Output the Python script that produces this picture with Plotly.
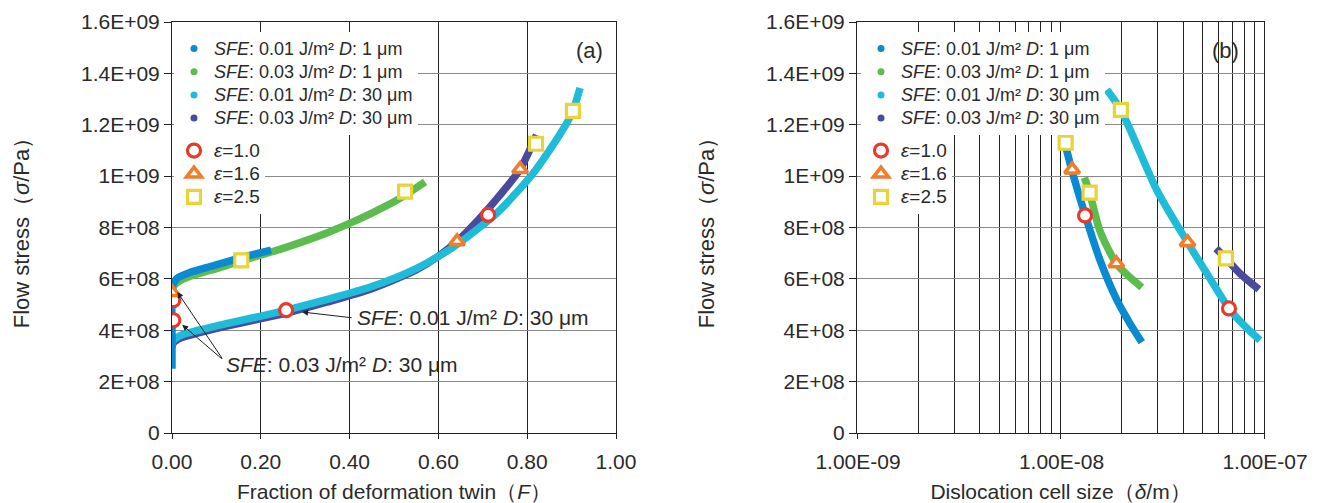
import plotly.graph_objects as go

# ---------------- data ----------------
Y_TICKS = [0, 2e8, 4e8, 6e8, 8e8, 1e9, 1.2e9, 1.4e9, 1.6e9]
Y_TICK_LABELS = ["0", "2E+08", "4E+08", "6E+08", "8E+08", "1E+09", "1.2E+09", "1.4E+09", "1.6E+09"]
A_X_TICKS = [0, 0.2, 0.4, 0.6, 0.8, 1.0]
A_X_TICK_LABELS = ["0.00", "0.20", "0.40", "0.60", "0.80", "1.00"]
B_X_TICKS = [1e-9, 1e-8, 1e-7]
B_X_TICK_LABELS = ["1.00E-09", "1.00E-08", "1.00E-07"]
B_X_MINOR = [2e-9, 3e-9, 4e-9, 5e-9, 6e-9, 7e-9, 8e-9, 9e-9,
             2e-8, 3e-8, 4e-8, 5e-8, 6e-8, 7e-8, 8e-8, 9e-8]

SERIES_NAMES = ["<i>SFE</i>: 0.01 J/m² <i>D</i>: 1 μm",
                "<i>SFE</i>: 0.03 J/m² <i>D</i>: 1 μm",
                "<i>SFE</i>: 0.01 J/m² <i>D</i>: 30 μm",
                "<i>SFE</i>: 0.03 J/m² <i>D</i>: 30 μm"]
STRAIN_NAMES = ["<i>ε</i>=1.0", "<i>ε</i>=1.6", "<i>ε</i>=2.5"]

# (a) flow stress vs fraction of deformation twin
a_F_s1 = [0, 0, 0, 0.004, 0.014, 0.04, 0.08, 0.15, 0.223]
a_S_s1 = [2.5e8, 4.2e8, 5.6e8, 5.85e8, 6.05e8, 6.25e8, 6.45e8, 6.8e8, 7.12e8]
a_F_s2 = [0, 0.005, 0.02, 0.05, 0.1, 0.156, 0.2, 0.25, 0.3, 0.35, 0.4, 0.45, 0.5, 0.525, 0.57]
a_S_s2 = [5.5e8, 5.75e8, 5.95e8, 6.15e8, 6.4e8, 6.7e8, 6.93e8, 7.19e8, 7.48e8, 7.8e8, 8.16e8, 8.56e8, 9.0e8, 9.26e8, 9.78e8]
a_F_s3 = [0, 0.003, 0.02, 0.06, 0.12, 0.2, 0.257, 0.35, 0.45, 0.55, 0.63, 0.7, 0.739, 0.813, 0.85, 0.889, 0.903, 0.919]
a_S_s3 = [3.4e8, 3.6e8, 3.8e8, 4.0e8, 4.25e8, 4.55e8, 4.78e8, 5.2e8, 5.7e8, 6.4e8, 7.2e8, 8.1e8, 8.68e8, 1.01e9, 1.1e9, 1.206e9, 1.254e9, 1.343e9]
a_F_s4 = [0, 0.003, 0.02, 0.06, 0.12, 0.2, 0.26, 0.35, 0.45, 0.55, 0.6, 0.642, 0.69, 0.739, 0.784, 0.821]
a_S_s4 = [3.35e8, 3.5e8, 3.7e8, 3.9e8, 4.15e8, 4.45e8, 4.68e8, 5.1e8, 5.62e8, 6.35e8, 6.88e8, 7.46e8, 8.3e8, 9.27e8, 1.027e9, 1.16e9]

a_F_e10 = [0.003, 0.003, 0.257, 0.712]
a_S_e10 = [5.17e8, 4.39e8, 4.78e8, 8.49e8]
a_F_e16 = [0.0, 0.642, 0.784]
a_S_e16 = [5.48e8, 7.46e8, 1.027e9]
a_F_e25 = [0.156, 0.525, 0.82, 0.903]
a_S_e25 = [6.72e8, 9.40e8, 1.126e9, 1.254e9]

# (b) flow stress vs dislocation cell size
b_D_s1 = [1.05e-8, 1.14e-8, 1.32e-8, 1.56e-8, 1.90e-8, 2.2e-8, 2.51e-8]
b_S_s1 = [1.13e9, 1.02e9, 8.5e8, 6.75e8, 5.15e8, 4.25e8, 3.53e8]
b_D_s2 = [1.31e-8, 1.39e-8, 1.56e-8, 1.88e-8, 2.2e-8, 2.51e-8]
b_S_s2 = [9.94e8, 9.36e8, 7.88e8, 6.6e8, 6.05e8, 5.67e8]
b_D_s3 = [1.69e-8, 1.98e-8, 2.98e-8, 4.21e-8, 5.24e-8, 6.73e-8, 8.24e-8, 9.55e-8]
b_S_s3 = [1.336e9, 1.258e9, 9.44e8, 7.42e8, 6.21e8, 4.85e8, 4.08e8, 3.61e8]
b_D_s4 = [5.81e-8, 6.50e-8, 7.62e-8, 9.44e-8]
b_S_s4 = [7.18e8, 6.8e8, 6.21e8, 5.59e8]

b_D_e10 = [1.32e-8, 6.73e-8]
b_S_e10 = [8.47e8, 4.85e8]
b_D_e16 = [1.14e-8, 1.88e-8, 4.21e-8]
b_S_e16 = [1.025e9, 6.6e8, 7.42e8]
b_D_e25 = [1.06e-8, 1.39e-8, 1.98e-8, 6.50e-8]
b_S_e25 = [1.13e9, 9.36e8, 1.258e9, 6.8e8]

# ---------------- style ----------------
C_BLUE, C_GREEN, C_CYAN, C_PURPLE = "#0a8ad0", "#5cbd4e", "#1fbcd9", "#4a4a9f"
SERIES_COLORS = [C_BLUE, C_GREEN, C_CYAN, C_PURPLE]
C_RED, C_ORANGE, C_YELLOW = "#e83a2c", "#f07c2c", "#e8d438"
FONT = "Liberation Sans, Arial, sans-serif"
TXT = "#2a2a2a"

BODY = 8                      # default page margin of the html body
W, H = 1317 - BODY, 503 - BODY
ML, MT = 172 - BODY, 22 - BODY
MR = W - (1264 - BODY)
MB = H - (433 - BODY)
PW, PH = W - ML - MR, H - MT - MB


def PX(px):
    return (px - BODY - ML) / PW


def PY(py):
    return (MT + PH - (py - BODY)) / PH


def big(t, s=18):
    return '<span style="font-size:%dpx">%s</span>' % (s, t)


fig = go.Figure()


def add_line(x, y, color, xa, ya):
    fig.add_trace(go.Scatter(x=x, y=y, mode="lines", xaxis=xa, yaxis=ya,
                             line=dict(color=color, width=7.5, shape="spline", smoothing=0.7),
                             showlegend=False, hoverinfo="skip"))


# draw order: purple, cyan, green, blue
for (x, y, c) in [(a_F_s4, a_S_s4, C_PURPLE), (a_F_s3, a_S_s3, C_CYAN),
                  (a_F_s2, a_S_s2, C_GREEN), (a_F_s1, a_S_s1, C_BLUE)]:
    add_line(x, y, c, "x", "y")
for (x, y, c) in [(b_D_s4, b_S_s4, C_PURPLE), (b_D_s3, b_S_s3, C_CYAN),
                  (b_D_s2, b_S_s2, C_GREEN), (b_D_s1, b_S_s1, C_BLUE)]:
    add_line(x, y, c, "x2", "y2")

# legend proxies for the series (dots)
for lg, xa, ya in [("legend", "x", "y"), ("legend3", "x2", "y2")]:
    for name, c in zip(SERIES_NAMES, SERIES_COLORS):
        fig.add_trace(go.Scatter(x=[None], y=[None], mode="markers", name=big(name),
                                 marker=dict(size=7, color=c), legend=lg,
                                 xaxis=xa, yaxis=ya))

MK = [dict(symbol="circle", size=13, color="white", line=dict(color=C_RED, width=3.2)),
      dict(symbol="triangle-up", size=13, color="white", line=dict(color=C_ORANGE, width=3.6)),
      dict(symbol="square", size=13, color="white", line=dict(color=C_YELLOW, width=3.2))]

for (x, y), mk, nm in zip([(a_F_e10, a_S_e10), (a_F_e16, a_S_e16), (a_F_e25, a_S_e25)], MK, STRAIN_NAMES):
    fig.add_trace(go.Scatter(x=x, y=y, mode="markers", name=big(nm, 19), marker=mk,
                             legend="legend2", xaxis="x", yaxis="y"))
for (x, y), mk, nm in zip([(b_D_e10, b_S_e10), (b_D_e16, b_S_e16), (b_D_e25, b_S_e25)], MK, STRAIN_NAMES):
    fig.add_trace(go.Scatter(x=x, y=y, mode="markers", name=big(nm, 19), marker=mk,
                             legend="legend4", xaxis="x2", yaxis="y2"))

axis_common = dict(showline=True, linecolor="#222", linewidth=1, mirror=True,
                   ticks="outside", tickcolor="#222", zeroline=False,
                   tickfont=dict(family=FONT, size=21, color=TXT),
                   title_font=dict(family=FONT, size=21, color=TXT))

yax = dict(axis_common, range=[0, 1.6e9], tickvals=Y_TICKS, ticktext=Y_TICK_LABELS,
           ticklen=7, showgrid=True, gridcolor="#8a8a8a", gridwidth=1.2,
           title_text="Flow stress（<i>σ</i>/Pa）", title_standoff=45,
           title_font=dict(family=FONT, size=22, color=TXT))

leg = dict(xanchor="left", yanchor="top", bgcolor="white",
           font=dict(family=FONT, size=15.5, color=TXT), itemwidth=30)

fig.update_layout(
    width=W, height=H,
    margin=dict(l=ML, r=MR, t=MT, b=MB, autoexpand=False),
    paper_bgcolor="white", plot_bgcolor="white",
    font=dict(family=FONT, color=TXT),
    xaxis=dict(axis_common, domain=[0, PX(616)], range=[0, 1.0],
               tickvals=A_X_TICKS, ticktext=A_X_TICK_LABELS, ticklen=5, ticklabelstandoff=5,
               showgrid=True, gridcolor="#222", gridwidth=1,
               title_text="Fraction of deformation twin（<i>F</i>）", title_standoff=12,
               anchor="y"),
    yaxis=dict(yax, domain=[0, 1], anchor="x"),
    xaxis2=dict(axis_common, domain=[PX(857), 1], type="log", range=[-9, -7],
                tickvals=B_X_TICKS, ticktext=B_X_TICK_LABELS, ticklen=5, ticklabelstandoff=5,
                ticklabelshift=1,
                showgrid=True, gridcolor="#222", gridwidth=1,
                minor=dict(tickvals=B_X_MINOR, showgrid=True, gridcolor="#222",
                           gridwidth=1, ticks=""),
                title_text="Dislocation cell size（<i>δ</i>/m）", title_standoff=12,
                anchor="y2"),
    yaxis2=dict(yax, domain=[0, 1], anchor="x2"),
    legend=dict(leg, x=PX(174), y=PY(32)),
    legend2=dict(leg, x=PX(174), y=PY(134)),
    legend3=dict(leg, x=PX(861), y=PY(32)),
    legend4=dict(leg, x=PX(861), y=PY(134)),
)

ann_font = dict(family=FONT, size=22, color=TXT)
for txt, px in [("(a)", 589), ("(b)", 1225)]:
    fig.add_annotation(xref="paper", yref="paper", x=PX(px), y=PY(50), text=txt,
                       xanchor="center", yanchor="middle", showarrow=False, font=ann_font)

# callouts in panel (a)
lbl_font = dict(family=FONT, size=21, color=TXT)
fig.add_annotation(xref="x", yref="y", x=0.4125, y=4.48e8, xanchor="left", yanchor="middle",
                   text=SERIES_NAMES[2], showarrow=False, font=lbl_font)
fig.add_annotation(xref="x", yref="y", x=0.116, y=2.65e8, xanchor="left", yanchor="middle",
                   text=SERIES_NAMES[3], showarrow=False, font=lbl_font)
arrows = [((0.293, 4.71e8), (0.408, 4.48e8)),
          ((0.012, 5.49e8), (0.1155, 2.84e8)),
          ((0.023, 4.21e8), (0.1155, 2.84e8))]
for (hx, hy), (tx, ty) in arrows:
    fig.add_annotation(xref="x", yref="y", axref="x", ayref="y", x=hx, y=hy, ax=tx, ay=ty,
                       text="", showarrow=True, arrowhead=2, arrowsize=1.2, arrowwidth=1,
                       arrowcolor="#222")

fig.write_html("out.html")
